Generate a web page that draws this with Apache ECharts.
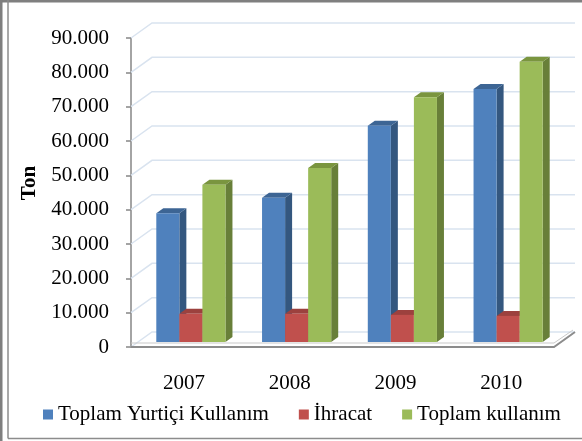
<!DOCTYPE html>
<html>
<head>
<meta charset="utf-8">
<script src="https://cdn.jsdelivr.net/npm/echarts@6/dist/echarts.min.js"></script>
<style>
  html, body { margin: 0; padding: 0; background: #fff; }
  #chart { width: 582px; height: 441px; }
</style>
</head>
<body>
<div id="chart"></div>
<script>
// kategoriler ve seri değerleri (ton)
const years = ['2007', '2008', '2009', '2010'];
const yurtici = [37500, 42000, 63000, 73700];
const ihracat = [8200, 8200, 7900, 7600];
const toplam = [45800, 50700, 71300, 81600];
const seriesNames = ['Toplam Yurtiçi Kullanım', 'İhracat', 'Toplam kullanım'];
const yTicks = [0, 10000, 20000, 30000, 40000, 50000, 60000, 70000, 80000, 90000];

const FONT = 'Liberation Serif';
// 3B derinlik (arka duvar kayması) ve çubuk derinliği
const WALL_DX = 21, WALL_DY = -15;
const BAR_DX = 7, BAR_DY = -5;

// renkler: ön yüz, yan yüz, üst yüz
const palette = [
  { front: '#4f81bd', side: '#34577f', top: '#3d6594' },
  { front: '#c0504d', side: '#8c3a38', top: '#9c413e' },
  { front: '#9bbb59', side: '#687f39', top: '#7a953f' }
];

const fmt = v => String(v).replace(/\B(?=(\d{3})+(?!\d))/g, '.');

const chart = echarts.init(document.getElementById('chart'));

// 3B çubuk çizimi (ön, yan ve üst yüz)
const barRenderer = k => (params, api) => {
  const cat = api.value(0);
  const val = api.value(1);
  const base = api.coord([cat, 0]);
  const top = api.coord([cat, val]);
  const bw = api.size([1, 0])[0] * 0.218;
  const x0 = base[0] - 1.5 * bw + k * bw + BAR_DX;
  const yb = base[1] + BAR_DY;
  const yt = top[1] + BAR_DY;
  const c = palette[k];
  return {
    type: 'group',
    children: [
      {
        type: 'polygon',
        shape: { points: [[x0 + bw, yt], [x0 + bw + BAR_DX, yt + BAR_DY], [x0 + bw + BAR_DX, yb + BAR_DY], [x0 + bw, yb]] },
        style: { fill: c.side }
      },
      {
        type: 'polygon',
        shape: { points: [[x0, yt], [x0 + bw, yt], [x0 + bw + BAR_DX, yt + BAR_DY], [x0 + BAR_DX, yt + BAR_DY]] },
        style: { fill: c.top }
      },
      {
        type: 'rect',
        shape: { x: x0, y: yt, width: bw, height: yb - yt },
        style: { fill: c.front }
      }
    ]
  };
};

// arka ve yan duvar ızgara çizgileri
const wallRenderer = (params, api) => {
  const cs = params.coordSys;
  const y = api.coord([0, api.value(1)])[1];
  return {
    type: 'polyline',
    shape: { points: [[cs.x, y], [cs.x + WALL_DX, y + WALL_DY], [cs.x + cs.width + WALL_DX, y + WALL_DY]] },
    style: { stroke: '#d9e3ef', lineWidth: 1.5, fill: null }
  };
};

// zemin plakası
const floorRenderer = (params, api) => {
  const cs = params.coordSys;
  const y0 = api.coord([0, 0])[1];
  const x0 = cs.x, x1 = cs.x + cs.width;
  return {
    type: 'group',
    children: [
      {
        type: 'polyline',
        shape: { points: [[x0, y0 - 4], [x1, y0 - 4], [x1 + WALL_DX - 2, y0 + WALL_DY - 2]] },
        style: { stroke: '#c9c9c9', lineWidth: 1, fill: null }
      },
      {
        type: 'polyline',
        shape: { points: [[x0, y0], [x1, y0], [x1 + WALL_DX, y0 + WALL_DY]] },
        style: { stroke: '#8c8c8c', lineWidth: 2, fill: null }
      }
    ]
  };
};

const seriesData = [yurtici, ihracat, toplam];

const option = {
  animation: false,
  textStyle: { fontFamily: FONT },
  grid: { left: 131, right: 28, top: 38, bottom: 94 },
  legend: {
    data: seriesNames,
    left: 38,
    top: 399,
    itemWidth: 10,
    itemHeight: 10,
    itemGap: 30,
    icon: 'rect',
    textStyle: { fontFamily: FONT, fontSize: 21, color: '#000' }
  },
  xAxis: {
    type: 'category',
    data: years,
    axisLine: { show: false },
    axisTick: { show: false },
    axisLabel: { fontFamily: FONT, fontSize: 21, color: '#000', margin: 26 }
  },
  yAxis: {
    type: 'value',
    min: 0,
    max: 90000,
    interval: 10000,
    axisLine: { show: true, lineStyle: { color: '#868686', width: 1.5 } },
    axisTick: { show: true, length: 5, lineStyle: { color: '#868686', width: 1.5 } },
    splitLine: { show: false },
    axisLabel: { fontFamily: FONT, fontSize: 21, color: '#000', margin: 22, formatter: fmt }
  },
  series: [
    {
      type: 'custom',
      silent: true,
      z: 1,
      renderItem: wallRenderer,
      data: yTicks.map(v => [0, v])
    },
    {
      type: 'custom',
      silent: true,
      z: 1,
      renderItem: floorRenderer,
      data: [[0, 0]]
    }
  ].concat(seriesNames.map((name, k) => ({
    type: 'custom',
    name: name,
    z: 2,
    itemStyle: { color: palette[k].front },
    renderItem: barRenderer(k),
    encode: { x: 0, y: 1 },
    data: seriesData[k].map((v, i) => [i, v])
  }))),
  graphic: [
    { type: 'line', shape: { x1: 0, y1: 1, x2: 582, y2: 1 }, style: { stroke: '#7f7f7f', lineWidth: 3 } },
    { type: 'line', shape: { x1: 1, y1: 0, x2: 1, y2: 441 }, style: { stroke: '#7f7f7f', lineWidth: 3 } },
    { type: 'line', shape: { x1: 8, y1: 0, x2: 8, y2: 438.5 }, style: { stroke: '#8c8c8c', lineWidth: 1.5 } },
    { type: 'line', shape: { x1: 8, y1: 438.5, x2: 582, y2: 438.5 }, style: { stroke: '#8c8c8c', lineWidth: 1.5 } },
    {
      type: 'text',
      x: 29.5,
      y: 183,
      rotation: Math.PI / 2,
      style: {
        text: 'Ton',
        fontFamily: FONT,
        fontSize: 21,
        fontWeight: 'bold',
        fill: '#000',
        align: 'center',
        verticalAlign: 'middle'
      }
    }
  ]
};

chart.setOption(option);
</script>
</body>
</html>
